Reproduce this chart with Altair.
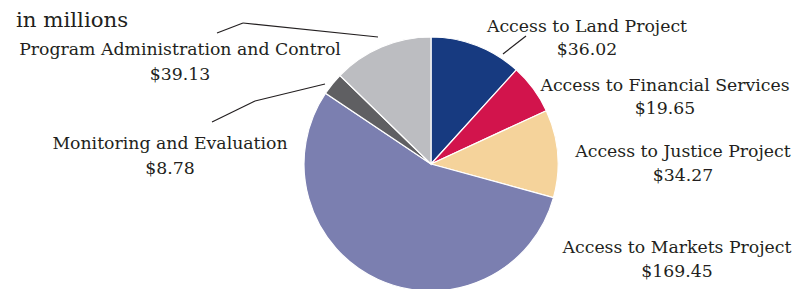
import altair as alt
import pandas as pd

categories = [
    "Access to Land Project",
    "Access to Financial Services",
    "Access to Justice Project",
    "Access to Markets Project",
    "Monitoring and Evaluation",
    "Program Administration and Control",
]
values = [36.02, 19.65, 34.27, 169.45, 8.78, 39.13]
value_labels = ["$36.02", "$19.65", "$34.27", "$169.45", "$8.78", "$39.13"]
colors = ["#173a80", "#d2144c", "#f5d39b", "#7b7fb0", "#5f5f62", "#bcbdc1"]

df = pd.DataFrame({
    "category": categories,
    "value": values,
    "order": list(range(len(categories))),
})

OFF = 8  # page margin
FONT = "DejaVu Serif"
TEXT_COLOR = "#231f20"

pie = alt.Chart(df).mark_arc(
    outerRadius=127, stroke="white", strokeWidth=1.2
).encode(
    theta=alt.Theta("value:Q", stack=True),
    order=alt.Order("order:Q"),
    color=alt.Color("category:N", scale=alt.Scale(domain=categories, range=colors), legend=None),
    x=alt.value(431 - OFF),
    y=alt.value(164 - OFF),
)

# label layout (page pixel centres / baselines)
label_pos = [
    (587, 32, 55),
    (665, 91, 114),
    (683, 157, 181),
    (677, 253, 277),
    (170, 149, 174),
    (180, 55, 80),
]

one = pd.DataFrame({"k": [0]})
layers = [pie]
for cat, vlab, (cx, y1, y2) in zip(categories, value_labels, label_pos):
    for txt, yy in ((cat, y1), (vlab, y2)):
        layers.append(
            alt.Chart(one).mark_text(
                font=FONT, fontSize=17.3, align="center", baseline="alphabetic",
                color=TEXT_COLOR, text=txt,
            ).encode(x=alt.value(cx - OFF), y=alt.value(yy - OFF))
        )

layers.append(
    alt.Chart(one).mark_text(
        font=FONT, fontSize=21.3, align="left", baseline="alphabetic",
        color=TEXT_COLOR, text="in millions",
    ).encode(x=alt.value(16 - OFF), y=alt.value(27 - OFF))
)

segments = [
    ((503, 54), (526, 36)),
    ((217, 33), (243, 23)),
    ((243, 23), (378, 37)),
    ((212, 122), (255, 101)),
    ((255, 101), (325, 84)),
]
for (xa, ya), (xb, yb) in segments:
    layers.append(
        alt.Chart(one).mark_rule(color=TEXT_COLOR, strokeWidth=1.2).encode(
            x=alt.value(xa - OFF), y=alt.value(ya - OFF),
            x2=alt.value(xb - OFF), y2=alt.value(yb - OFF),
        )
    )

chart = alt.layer(*layers).properties(
    width=784, height=281, padding=0,
    autosize=alt.AutoSizeParams(type="none"),
).configure_view(stroke=None)

chart.save("out.html", embed_options={"renderer": "svg", "actions": False})
